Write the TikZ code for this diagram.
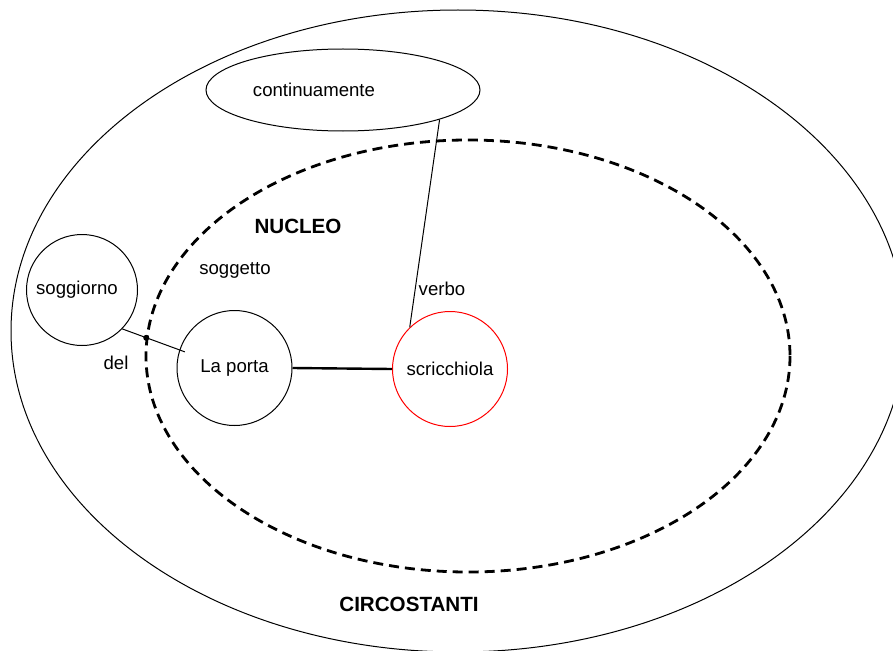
\documentclass[tikz,border=0pt]{standalone}
\usepackage{fontspec}
\setmainfont{Liberation Sans}
\usepackage{tikz}
\usetikzlibrary{calc, positioning, shapes.geometric}

\begin{document}
\begin{tikzpicture}[
x=1pt, y=-1pt,
texts/.style = {text=black, font=\fontsize{18.6}{22}\selectfont},
boldtexts/.style = {text=black, font=\fontsize{20.6}{24}\selectfont\bfseries},
ringline/.style = {draw=black, line width=1pt},
ringnode/.style = {texts, circle, ringline, inner sep=0pt, minimum size=115pt},
verbnode/.style = {ringnode, draw=red},
nucleoline/.style = {draw=black, line width=2.8pt, dash pattern=on 10pt off 6pt},
coreline/.style = {draw=black, line width=2.4pt}
]
\clip (0,0) rectangle (893,650);

% regions
\draw[ringline] (458,331) ellipse [x radius=447, y radius=321];
\draw[nucleoline] (468,356) ellipse [x radius=322, y radius=216];

\node[texts, ellipse, ringline, inner sep=0pt, minimum width=274pt, minimum height=82pt] (cont) at (343,90) {};
\node[texts] (conttext) at ([xshift=-29pt]cont.center) {continuamente};

\node[ringnode, minimum size=111pt] (sog) at (82,290) {soggiorno\hspace*{10pt}};
\node[ringnode] (porta) at (234.5,368) {La porta};
\node[verbnode] (scric) at (450,369) {scricchiola};

\draw[ringline] (cont.-17) -- (scric.134);
\draw[coreline] (porta.east) -- (scric.west);
\draw[ringline] (sog.-44) -- ($(porta.162)!0.1!(porta.center)$);
\fill ($(sog.-44)!0.42!(porta.162)$) circle (3pt);

\node[boldtexts] (nucleo) at (298,226) {NUCLEO};
\node[texts] (soggetto) at (235,270) {soggetto};
\node[texts] (verbo) at (442,289) {verbo};
\node[texts] (del) at (116,363) {del};
\node[boldtexts] (circ) at (409,604) {CIRCOSTANTI};
\end{tikzpicture}
\end{document}
